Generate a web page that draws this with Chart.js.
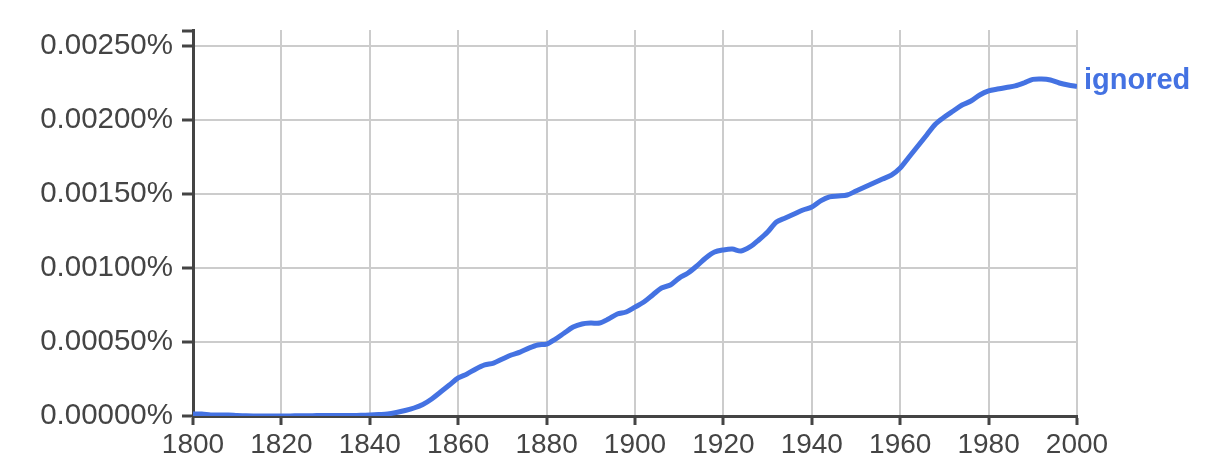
<!DOCTYPE html>
<html lang="en">
<head>
  <meta charset="UTF-8">
  <title>ignored</title>
  <script src="https://cdn.jsdelivr.net/npm/chart.js"></script>
  <style>
    body {
      margin: 0;
      background: #fff;
    }
    #chart {
      display: block;
    }
  </style>
</head>
<body>
  <canvas id="chart" width="1213" height="474"></canvas>

  <script>
    const seriesName = 'ignored';

    const years = [
      1800, 1802, 1804, 1806, 1808, 1810, 1812, 1814, 1816, 1818,
      1820, 1822, 1824, 1826, 1828, 1830, 1832, 1834, 1836, 1838,
      1840, 1842, 1844, 1846, 1848, 1850, 1852, 1854, 1856, 1858,
      1860, 1862, 1864, 1866, 1868, 1870, 1872, 1874, 1876, 1878,
      1880, 1882, 1884, 1886, 1888, 1890, 1892, 1894, 1896, 1898,
      1900, 1902, 1904, 1906, 1908, 1910, 1912, 1914, 1916, 1918,
      1920, 1922, 1924, 1926, 1928, 1930, 1932, 1934, 1936, 1938,
      1940, 1942, 1944, 1946, 1948, 1950, 1952, 1954, 1956, 1958,
      1960, 1962, 1964, 1966, 1968, 1970, 1972, 1974, 1976, 1978,
      1980, 1982, 1984, 1986, 1988, 1990, 1992, 1994, 1996, 1998,
      2000
    ];

    // values in percent
    const values = [
      0.0000135, 0.0000135, 0.0000068, 0.0000068, 0.0000068, 0.0000034, 0.0000010, 0.0000005, 0.0000005, 0.0000005,
      0.0000005, 0.0000008, 0.0000010, 0.0000015, 0.0000030, 0.0000034, 0.0000034, 0.0000034, 0.0000036, 0.0000047,
      0.0000068, 0.0000101, 0.0000135, 0.0000236, 0.0000372, 0.0000541, 0.0000777, 0.000115, 0.000162, 0.000209,
      0.000257, 0.000284, 0.000318, 0.000345, 0.000358, 0.000385, 0.000412, 0.000432, 0.000459, 0.000480,
      0.000486, 0.000520, 0.000561, 0.000601, 0.000622, 0.000628, 0.000628, 0.000655, 0.000689, 0.000703,
      0.000736, 0.000770, 0.000818, 0.000865, 0.000885, 0.000932, 0.000966, 0.001014, 0.001068, 0.001108,
      0.001122, 0.001128, 0.001115, 0.001142, 0.001189, 0.001243, 0.001311, 0.001338, 0.001365, 0.001392,
      0.001412, 0.001453, 0.001480, 0.001486, 0.001493, 0.001520, 0.001547, 0.001574, 0.001601, 0.001628,
      0.001676, 0.001750, 0.001824, 0.001899, 0.001973, 0.002020, 0.002061, 0.002101, 0.002128, 0.002169,
      0.002196, 0.002209, 0.002220, 0.002230, 0.002250, 0.002274, 0.002277, 0.002270, 0.002250, 0.002236,
      0.002226
    ];

    const xTicks = [1800, 1820, 1840, 1860, 1880, 1900, 1920, 1940, 1960, 1980, 2000];
    const yTicks = [0, 0.0005, 0.001, 0.0015, 0.002, 0.0025];

    const lineColor = '#4472e2';
    const axisColor = '#444';
    const gridColor = '#cccccc';
    const fontFamily = '"Liberation Sans", Arial, sans-serif';

    // top cap on the y axis + series name at line end
    const extras = {
      id: 'extras',
      afterDraw(chart) {
        const ctx = chart.ctx;
        const area = chart.chartArea;
        ctx.save();
        ctx.strokeStyle = axisColor;
        ctx.lineWidth = 3;
        ctx.beginPath();
        ctx.moveTo(area.left - 11, area.top + 1);
        ctx.lineTo(area.left, area.top + 1);
        ctx.stroke();

        const meta = chart.getDatasetMeta(0);
        const last = meta.data[meta.data.length - 1];
        ctx.fillStyle = lineColor;
        ctx.font = 'bold 29px ' + fontFamily;
        ctx.textBaseline = 'middle';
        ctx.textAlign = 'left';
        ctx.fillText(seriesName, last.x + 7, last.y - 6);
        ctx.restore();
      }
    };

    const ctx = document.getElementById('chart').getContext('2d');
    new Chart(ctx, {
      type: 'line',
      data: {
        datasets: [{
          label: seriesName,
          data: years.map((y, i) => ({ x: y, y: values[i] })),
          borderColor: lineColor,
          borderWidth: 5,
          pointRadius: 0,
          tension: 0.3,
          fill: false
        }]
      },
      options: {
        responsive: false,
        animation: false,
        layout: {
          padding: { left: 0, right: 136, top: 30, bottom: 0 }
        },
        plugins: {
          legend: { display: false },
          tooltip: { enabled: false }
        },
        scales: {
          x: {
            type: 'linear',
            min: 1800,
            max: 2000,
            afterBuildTicks: (axis) => { axis.ticks = xTicks.map(v => ({ value: v })); },
            afterFit: (axis) => { axis.height = 58; },
            border: { color: axisColor, width: 3 },
            grid: {
              color: gridColor,
              lineWidth: 2,
              tickColor: axisColor,
              tickLength: 9,
              tickWidth: 3
            },
            ticks: {
              color: axisColor,
              padding: 3,
              maxRotation: 0,
              font: { family: fontFamily, size: 28 },
              callback: (v) => String(v)
            }
          },
          y: {
            min: 0,
            max: 0.002608,
            afterBuildTicks: (axis) => { axis.ticks = yTicks.map(v => ({ value: v })); },
            afterFit: (axis) => { axis.width = 193; },
            border: { color: axisColor, width: 3 },
            grid: {
              color: gridColor,
              lineWidth: 2,
              tickColor: axisColor,
              tickLength: 11,
              tickWidth: 3
            },
            ticks: {
              color: axisColor,
              padding: 9,
              font: { family: fontFamily, size: 29.5 },
              callback: (v) => v.toFixed(5) + '%'
            }
          }
        }
      },
      plugins: [extras]
    });
  </script>
</body>
</html>
